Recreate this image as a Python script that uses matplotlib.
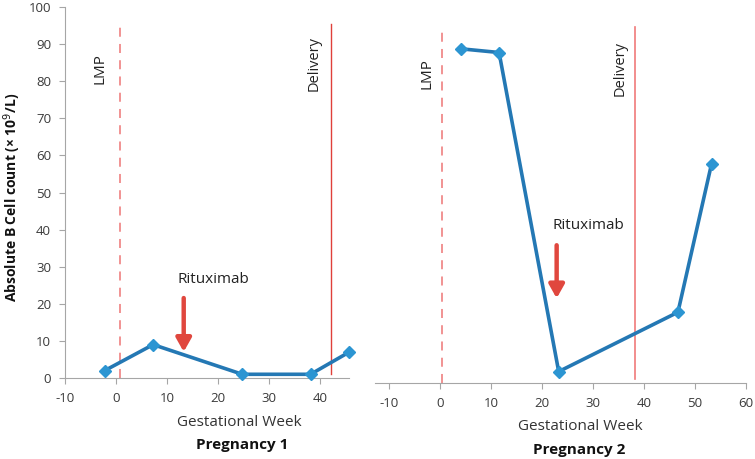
import matplotlib
matplotlib.use("Agg")
import matplotlib.pyplot as plt

# Data
p1_weeks = [-2.2, 7.3, 24.8, 38.2, 45.8]
p1_counts = [2, 9, 1, 1, 7]
p2_weeks = [4.1, 11.6, 23.3, 46.7, 53.3]
p2_counts = [90, 89, 3, 19, 59]

p1_lmp = 0.7
p1_delivery = 42.2
p1_rituximab = 13.3
p2_lmp = 0.4
p2_delivery = 38.2
p2_rituximab = 22.9

xticks1 = [-10, 0, 10, 20, 30, 40]
xticks2 = [-10, 0, 10, 20, 30, 40, 50, 60]
yticks = [0, 10, 20, 30, 40, 50, 60, 70, 80, 90, 100]

plt.rcParams['font.family'] = ['Open Sans', 'DejaVu Sans']
plt.rcParams['axes.unicode_minus'] = False

W, H = 755, 459
fig = plt.figure(figsize=(W / 100, H / 100), dpi=100)

def fx(px):
    return px / W

def fy(py):
    return 1 - py / H

line_c = '#2478b4'
marker_c = '#2c95d2'
spine_c = '#a6a6a6'
red_dash = '#f08a8a'
red_solid = '#e0403a'
arrow_c = '#e0473e'

ax1 = fig.add_axes([fx(65), fy(378), (349.3 - 65) / W, 371 / H])
ax2 = fig.add_axes([fx(375), fy(382.7), (745.7 - 375) / W, 371 / H])

for ax in (ax1, ax2):
    for s in ('top', 'right'):
        ax.spines[s].set_visible(False)
    ax.spines['bottom'].set_color(spine_c)
    ax.spines['left'].set_color(spine_c)
    ax.tick_params(colors=spine_c, labelcolor='#3a3a3a', labelsize=9.5, length=4, direction='out')
    ax.tick_params(axis='x', pad=6)
    ax.tick_params(axis='y', pad=6)
    ax.set_facecolor('none')

ax1.set_xlim(-10, 45.8)
ax1.set_ylim(0, 100)
ax1.set_xticks(xticks1)
ax1.set_yticks(yticks)

ax2.set_xlim(-12.75, 60)
ax2.set_ylim(0, 100)
ax2.set_xticks(xticks2)
ax2.spines['left'].set_visible(False)
ax2.set_yticks([])

# Reference lines
ax1.plot([p1_lmp, p1_lmp], [0, 95.4], ls=(0, (5, 4)), color=red_dash, lw=1.3, zorder=1)
ax1.plot([p1_delivery, p1_delivery], [1, 95.4], color=red_solid, lw=1.0, zorder=1)
ax2.plot([p2_lmp, p2_lmp], [0, 95.3], ls=(0, (5, 4)), color=red_dash, lw=1.3, zorder=1)
ax2.plot([p2_delivery, p2_delivery], [1, 96], color='#f07a7a', lw=1.2, zorder=1)

# Series
for ax, xs, ys in ((ax1, p1_weeks, p1_counts), (ax2, p2_weeks, p2_counts)):
    ax.plot(xs, ys, color=line_c, lw=2.6, zorder=3, clip_on=False)
    ax.plot(xs, ys, ls='none', marker='D', ms=6, color=marker_c, zorder=4, clip_on=False)

# Arrows
ax1.annotate('', xy=(p1_rituximab, 6.3), xytext=(p1_rituximab, 22.3),
             arrowprops=dict(arrowstyle='-|>,head_width=0.45,head_length=0.8', color=arrow_c, lw=3.2))
ax2.annotate('', xy=(p2_rituximab, 22.0), xytext=(p2_rituximab, 37.8),
             arrowprops=dict(arrowstyle='-|>,head_width=0.45,head_length=0.8', color=arrow_c, lw=3.2))

# Texts
tc = '#222222'
ax1.text(19.2, 26.5, 'Rituximab', ha='center', va='center', fontsize=11, color=tc)
ax2.text(29.1, 42.5, 'Rituximab', ha='center', va='center', fontsize=11, color=tc)
ax1.text(-3.1, 83.3, 'LMP', rotation=90, ha='center', va='center', fontsize=11, color=tc)
ax1.text(38.9, 84.8, 'Delivery', rotation=90, ha='center', va='center', fontsize=10.5, color=tc)
ax2.text(-2.6, 83.4, 'LMP', rotation=90, ha='center', va='center', fontsize=11, color=tc)
ax2.text(35.3, 84.7, 'Delivery', rotation=90, ha='center', va='center', fontsize=10.5, color=tc)

fig.text(fx(239.3), fy(422.7), 'Gestational Week', ha='center', va='center', fontsize=11, color='#333333')
fig.text(fx(242.3), fy(445), 'Pregnancy 1', ha='center', va='center', fontsize=11, fontweight='bold', color='#111111')
fig.text(fx(580), fy(426.7), 'Gestational Week', ha='center', va='center', fontsize=11, color='#333333')
fig.text(fx(579), fy(450), 'Pregnancy 2', ha='center', va='center', fontsize=11, fontweight='bold', color='#111111')
fig.text(fx(12), fy(197), 'Absolute B Cell count (× 10$^{9}$/L)', rotation=90, ha='center', va='center',
         fontsize=10, fontweight='bold', color='#111111')

fig.savefig('out.png', dpi=100)
